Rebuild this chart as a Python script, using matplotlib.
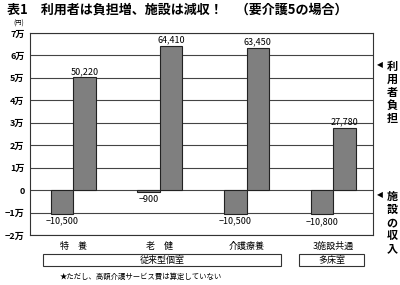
import matplotlib
matplotlib.use("Agg")
import matplotlib.pyplot as plt
from matplotlib.patches import Rectangle

plt.rcParams['font.family'] = ['Noto Sans CJK JP', 'DejaVu Sans']

categories = ["特　養", "老　健", "介護療養", "3施設共通"]
facility_income = [-10500, -900, -10500, -10800]
user_burden = [50220, 64410, 63450, 27780]
yticks = [-20000, -10000, 0, 10000, 20000, 30000, 40000, 50000, 60000, 70000]
ytick_labels = ["−2万", "−1万", "0", "1万", "2万", "3万", "4万", "5万", "6万", "7万"]

W, H = 400, 285
fig = plt.figure(figsize=(W / 100, H / 100), dpi=100)
fig.patch.set_facecolor("white")
ax = fig.add_axes([30 / W, 1 - 235 / H, (373 - 30) / W, (235 - 33) / H])

bw = 0.26
xs = list(range(len(categories)))
barcol = "#7f7f7f"
ax.bar([x - bw / 2 for x in xs], facility_income, width=bw, color=barcol,
       edgecolor="#222222", linewidth=0.8, zorder=3)
ax.bar([x + bw / 2 for x in xs], user_burden, width=bw, color=barcol,
       edgecolor="#222222", linewidth=0.8, zorder=3)

for x, v in zip(xs, facility_income):
    ax.text(x - bw / 2, v - 1200, "−{:,}".format(-v), ha="center", va="top",
            fontsize=6.5, zorder=4)
for x, v in zip(xs, user_burden):
    ax.text(x + bw / 2, v + 700, "{:,}".format(v), ha="center", va="bottom",
            fontsize=6.5, zorder=4)

ax.set_xlim(-0.5, 3.46)
ax.set_ylim(-20000, 70000)
ax.set_yticks(yticks)
ax.set_yticklabels(ytick_labels, fontsize=6.5, fontweight="bold")
ax.set_xticks([])
ax.tick_params(axis="y", length=0, pad=4)
ax.grid(axis="y", color="#444444", linewidth=0.8, zorder=0)
for s in ax.spines.values():
    s.set_color("#333333")
    s.set_linewidth(0.8)

# category labels
for x, c in zip(xs, categories):
    xp = ax.transData.transform((x, 0))[0]
    fig.text(xp / W, 1 - 246 / H, c, ha="center", va="center", fontsize=6.5)

# group boxes
def box(x0, x1, y0, y1, label):
    fig.patches.append(Rectangle((x0 / W, 1 - y1 / H), (x1 - x0) / W, (y1 - y0) / H,
                                 transform=fig.transFigure, fill=False,
                                 edgecolor="#333333", linewidth=0.8))
    fig.text((x0 + x1) / 2 / W, 1 - (y0 + y1) / 2 / H, label, ha="center",
             va="center", fontsize=6.5)

box(43, 281, 254, 266, "従来型個室")
box(299, 364, 254, 266, "多床室")

fig.text(60 / W, 1 - 277 / H, "★ただし、高額介護サービス費は算定していない",
         ha="left", va="center", fontsize=5.3)

# title
fig.text(7 / W, 1 - 10 / H, "表1　利用者は負担増、施設は減収！　（要介護5の場合）",
         ha="left", va="center", fontsize=9.4, fontweight="bold")
fig.text(19 / W, 1 - 24 / H, "(円)", ha="center", va="center", fontsize=4.5)

# right side annotations
def vtext(y_tri, y_top, s):
    fig.text(380 / W, 1 - y_tri / H, "◀", ha="center", va="center", fontsize=5.5,
             family=['DejaVu Sans'])
    fig.text(392 / W, 1 - y_top / H, "\n".join(s), ha="center", va="top",
             fontsize=8, fontweight="bold", linespacing=1.0)

vtext(65, 60, "利用者負担")
vtext(195, 190, "施設の収入")

fig.savefig("out.png", dpi=100, facecolor="white")
